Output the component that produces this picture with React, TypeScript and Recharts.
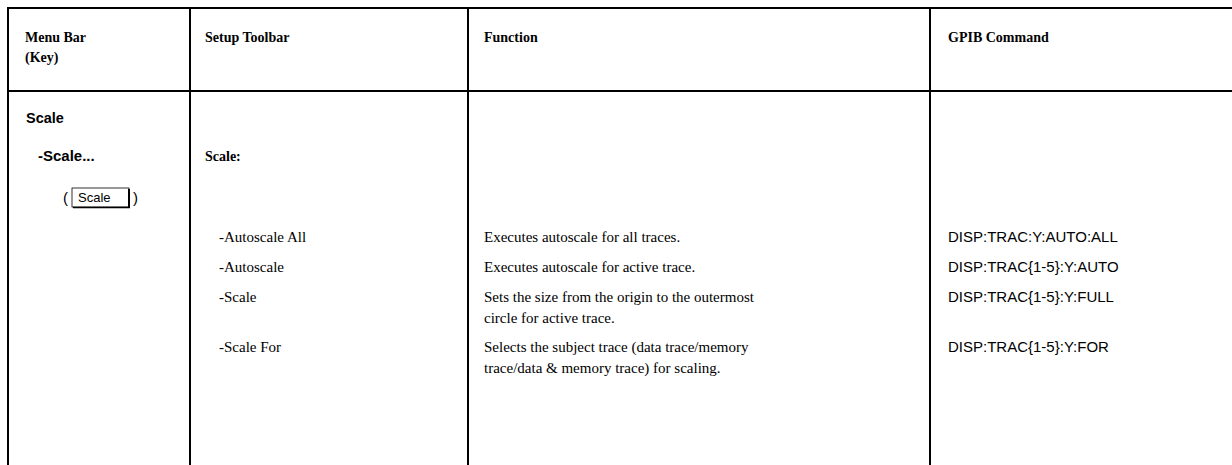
import React from 'react';
import { ScatterChart, Scatter, XAxis, YAxis, ReferenceLine } from 'recharts';

// table content
const headers: string[][] = [['Menu Bar', '(Key)'], ['Setup Toolbar'], ['Function'], ['GPIB Command']];
const menuTitle = 'Scale';
const menuItem = '-Scale...';
const menuKey = 'Scale';
const toolbarGroup = 'Scale:';
const toolbarItems = ['-Autoscale All', '-Autoscale', '-Scale', '-Scale For'];
const functions: string[][] = [
  ['Executes autoscale for all traces.'],
  ['Executes autoscale for active trace.'],
  ['Sets the size from the origin to the outermost', 'circle for active trace.'],
  ['Selects the subject trace (data trace/memory', 'trace/data & memory trace) for scaling.'],
];
const commands = ['DISP:TRAC:Y:AUTO:ALL', 'DISP:TRAC{1-5}:Y:AUTO', 'DISP:TRAC{1-5}:Y:FULL', 'DISP:TRAC{1-5}:Y:FOR'];

// layout (pixels)
const W = 1232;
const H = 465;
const colLines = [8, 190, 468, 930];
const colText = [25, 205, 484, 948];
const itemRows = [242, 272, 302, 352];
const lineGap = 21;

const SERIF = '"Liberation Serif", "Times New Roman", serif';
const SANS = '"Liberation Sans", Arial, sans-serif';

type Cell = { x: number; y: number; text: string; font: string; bold?: boolean; size?: number };

const cells: Cell[] = [];
headers.forEach((lines, c) =>
  lines.forEach((t, i) => cells.push({ x: colText[c], y: 42 + i * 20, text: t, font: SERIF, bold: true, size: 14 }))
);
cells.push({ x: 26, y: 123, text: menuTitle, font: SANS, bold: true, size: 14.5 });
cells.push({ x: 38, y: 161, text: menuItem, font: SANS, bold: true, size: 15 });
cells.push({ x: colText[1], y: 161, text: toolbarGroup, font: SERIF, bold: true, size: 14 });
toolbarItems.forEach((t, i) => cells.push({ x: 219, y: itemRows[i], text: t, font: SERIF }));
functions.forEach((lines, i) =>
  lines.forEach((t, j) => cells.push({ x: colText[2], y: itemRows[i] + j * lineGap, text: t, font: SERIF }))
);
commands.forEach((t, i) => cells.push({ x: colText[3], y: itemRows[i], text: t, font: SANS }));

const keyData = [{ x: 63, y: 198, text: menuKey }];

const TextShape = (props: any) => {
  const { cx, cy, payload } = props;
  return (
    <text
      x={cx}
      y={cy}
      fontFamily={payload.font}
      fontWeight={payload.bold ? 700 : 400}
      fontSize={payload.size ?? 15}
      fill="#000"
    >
      {payload.text}
    </text>
  );
};

const KeyShape = (props: any) => {
  const { cx, cy, payload } = props;
  return (
    <g>
      <text x={cx} y={cy + 5} fontFamily={SANS} fontSize={15} fill="#000">(</text>
      <rect x={cx + 9} y={cy - 10} width={57} height={19} fill="#fff" stroke="#000" strokeWidth={0.8} />
      <line x1={cx + 66} y1={cy - 9} x2={cx + 66} y2={cy + 10} stroke="#000" strokeWidth={2} />
      <line x1={cx + 10} y1={cy + 9.5} x2={cx + 67} y2={cy + 9.5} stroke="#000" strokeWidth={1.5} />
      <text x={cx + 15} y={cy + 4} fontFamily={SANS} fontSize={13} fill="#000">{payload.text}</text>
      <text x={cx + 70} y={cy + 5} fontFamily={SANS} fontSize={15} fill="#000">)</text>
    </g>
  );
};

export default function App() {
  return (
    <div style={{ position: 'absolute', left: 0, top: 0, background: '#fff' }}>
      <ScatterChart width={W} height={H} margin={{ top: 0, right: 0, bottom: 0, left: 0 }}>
        <XAxis type="number" dataKey="x" domain={[0, W]} hide />
        <YAxis type="number" dataKey="y" domain={[0, H]} reversed hide />
        <ReferenceLine stroke="#000" strokeWidth={2} segment={[{ x: 7, y: 8 }, { x: W, y: 8 }]} />
        <ReferenceLine stroke="#000" strokeWidth={2} segment={[{ x: 7, y: 91 }, { x: W, y: 91 }]} />
        {colLines.map((x) => (
          <ReferenceLine key={x} stroke="#000" strokeWidth={2} segment={[{ x, y: 7 }, { x, y: H }]} />
        ))}
        <Scatter data={cells} shape={TextShape} isAnimationActive={false} />
        <Scatter data={keyData} shape={KeyShape} isAnimationActive={false} />
      </ScatterChart>
    </div>
  );
}
